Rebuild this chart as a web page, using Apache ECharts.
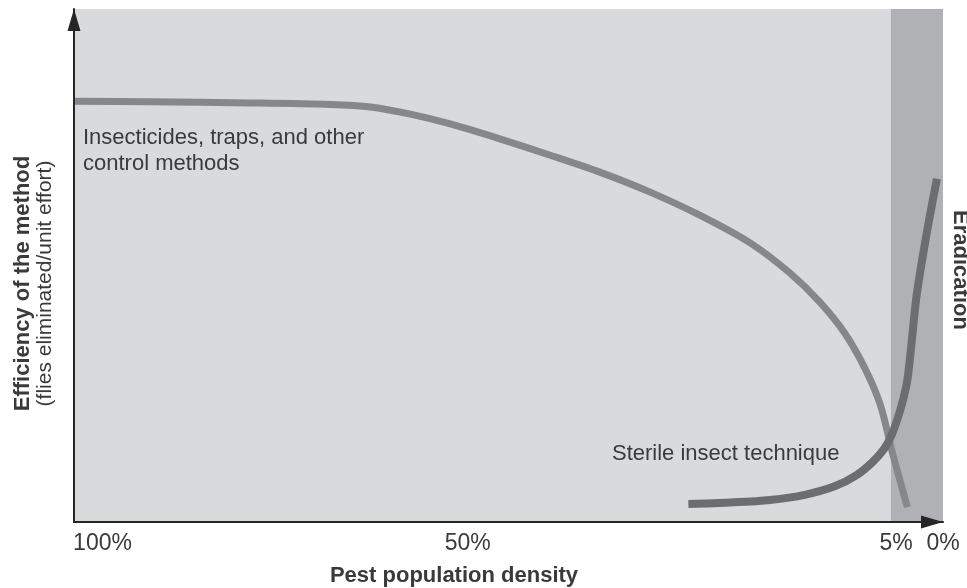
<!DOCTYPE html>
<html>
<head>
<meta charset="utf-8">
<script src="https://cdn.jsdelivr.net/npm/echarts@6/dist/echarts.min.js"></script>
<style>
  html, body { margin: 0; padding: 0; background: #ffffff; }
  #chart { width: 967px; height: 588px; }
</style>
</head>
<body>
<div id="chart"></div>
<script>
// x: relative position along the (non-linear) pest density axis, 0 = 100% density, 100 = 0% density
// y: relative efficiency of the method
var tickLabels = ['100%', '50%', '5%', '0%'];
var tickPositions = [0, 45.3, 94.6, 100];
var eradicationStart = 94.0;

var insecticideX = [0, 8.8, 20.3, 29.5, 34.1, 38.7, 43.3, 49.0, 54.8, 60.5, 66.3, 72.0, 77.8, 82.4, 85.8, 88.7, 91.0, 92.8, 94.1, 95.1, 95.9];
var insecticideY = [82.0, 81.9, 81.7, 81.4, 80.9, 79.5, 77.6, 74.7, 71.5, 68.2, 64.3, 59.8, 54.4, 48.5, 42.9, 36.8, 30.0, 22.8, 14.0, 7.8, 2.9];

var sitX = [70.7, 75.5, 80.1, 84.1, 87.6, 90.1, 91.9, 93.2, 94.1, 94.8, 95.4, 95.9, 96.3, 96.9, 97.6, 98.5, 99.3];
var sitY = [3.5, 3.8, 4.3, 5.3, 7.0, 9.2, 11.7, 14.2, 17.0, 20.3, 23.8, 27.7, 33.5, 43.3, 51.1, 59.8, 66.9];

var seriesNames = ['Insecticides, traps, and other\ncontrol methods', 'Sterile insect technique'];

function pairs(xs, ys) {
  return xs.map(function (x, i) { return [x, ys[i]]; });
}

var FONT = '"Liberation Sans", Arial, Helvetica, sans-serif';
var TEXT = '#3a3a3a';

var chart = echarts.init(document.getElementById('chart'), null, { renderer: 'canvas' });

chart.setOption({
  backgroundColor: '#ffffff',
  animation: false,
  textStyle: { fontFamily: FONT },
  grid: { left: 74, right: 24, top: 9, bottom: 66, outerBoundsMode: 'none', containLabel: false },
  xAxis: {
    type: 'value', min: 0, max: 100, z: 10,
    axisLine: { show: true, lineStyle: { color: '#262626', width: 2 },
      symbol: ['none', 'triangle'], symbolSize: [13, 22], symbolOffset: [0, -11] },
    axisTick: { show: false },
    splitLine: { show: false },
    axisLabel: {
      customValues: tickPositions,
      showMinLabel: true, showMaxLabel: true,
      margin: 10,
      color: TEXT, fontSize: 23, fontFamily: FONT,
      formatter: function (v) {
        var i = tickPositions.indexOf(v);
        var t = i >= 0 ? tickLabels[i] : '';
        return i === 0 ? '{first|' + t + '}' : t;
      },
      rich: { first: { padding: [0, 0, 0, 57], fontSize: 23, color: TEXT, fontFamily: FONT } }
    },
    name: 'Pest population density',
    nameLocation: 'middle',
    nameGap: 43,
    nameTextStyle: { color: TEXT, fontSize: 22, fontWeight: 'bold', fontFamily: FONT, padding: [0, 109, 0, 0] }
  },
  yAxis: {
    type: 'value', min: 0, max: 100, z: 10,
    axisLine: { show: true, lineStyle: { color: '#262626', width: 2 },
      symbol: ['none', 'triangle'], symbolSize: [13, 22], symbolOffset: [0, -11] },
    axisTick: { show: false },
    axisLabel: { show: false },
    splitLine: { show: false },
    name: '{b|Efficiency of the method}\n{r|(flies eliminated/unit effort)}',
    nameLocation: 'middle',
    nameRotate: 90,
    nameGap: 18,
    nameTextStyle: {
      color: TEXT, fontFamily: FONT, padding: [0, 36, 0, 0],
      rich: {
        b: { fontSize: 22, fontWeight: 'bold', color: TEXT, lineHeight: 22, fontFamily: FONT },
        r: { fontSize: 21, color: TEXT, lineHeight: 22, fontFamily: FONT }
      }
    }
  },
  series: [
    {
      type: 'line', name: 'bands', data: [], z: 1, silent: true,
      markArea: {
        silent: true,
        data: [
          [{ xAxis: 0, itemStyle: { color: '#d9dadc' } }, { xAxis: eradicationStart }],
          [{ xAxis: eradicationStart, itemStyle: { color: '#b0b1b4' } }, { xAxis: 100 }]
        ]
      }
    },
    {
      type: 'line', name: seriesNames[0], z: 3,
      data: pairs(insecticideX, insecticideY),
      smooth: 0.3, showSymbol: false, silent: true,
      lineStyle: { color: '#86878b', width: 7, cap: 'butt' }
    },
    {
      type: 'line', name: seriesNames[1], z: 4,
      data: pairs(sitX, sitY),
      smooth: 0.3, showSymbol: false, silent: true,
      lineStyle: { color: '#6c6d71', width: 8, cap: 'butt' }
    }
  ],
  graphic: [
    { type: 'text', left: 83, top: 125, z: 100, silent: true,
      style: { text: seriesNames[0], fill: TEXT, font: '22px ' + FONT, lineHeight: 26 } },
    { type: 'text', left: 612, top: 441, z: 100, silent: true,
      style: { text: seriesNames[1], fill: TEXT, font: '22px ' + FONT, lineHeight: 26 } },
    { type: 'text', x: 960, y: 270, rotation: -Math.PI / 2, z: 100, silent: true,
      style: { text: 'Eradication', fill: TEXT, font: 'bold 22px ' + FONT, align: 'center', verticalAlign: 'middle' } }
  ]
});
</script>
</body>
</html>
